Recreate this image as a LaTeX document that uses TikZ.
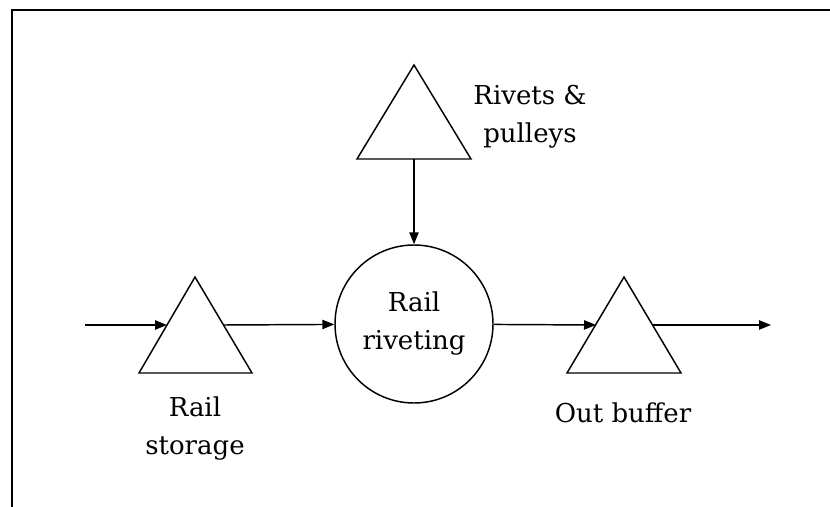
\documentclass[tikz,border=0pt]{standalone}
\usepackage{fontspec}
\setmainfont{DejaVu Serif}
\usetikzlibrary{arrows.meta}
\begin{document}
\begin{tikzpicture}[x=0.75pt,y=-0.75pt,
  frame/.style={line width=1.8pt,line cap=rect},
  flow/.style={line width=1.1pt,-{Triangle[length=9pt,width=7pt]}},
  inv/.style={line width=1.1pt,line join=miter},
  lbl/.style={font=\fontsize{19.5}{28.5}\selectfont,align=center,inner sep=0pt},
  proc/.style={draw,circle,line width=1.1pt,minimum size=118.5pt,inner sep=0pt,
    font=\fontsize{19.5}{28.5}\selectfont,align=center}]
\useasboundingbox (0,0) rectangle (830,506);
% frame (top and left edges)
\draw[frame] (12,507) -- (12,10) -- (831,10);
% inventory triangles
\draw[inv] (195,277) -- (252,373) -- (139,373) -- cycle;
\draw[inv] (414,65) -- (471,159) -- (357,159) -- cycle;
\draw[inv] (624,277) -- (681,373) -- (567,373) -- cycle;
\coordinate (sL) at (167,325);
\coordinate (sR) at (223.5,325);
\coordinate (rvB) at (414,159);
\coordinate (bL) at (596,325);
\coordinate (bR) at (652.5,325);
\coordinate (in) at (85,325);
\coordinate (out) at (771,325);
% process
\node[proc] (rr) at (414,324) {Rail\\riveting};
% labels
\node[lbl] (lrv) at (530,117) {Rivets \&\\pulleys};
\node[lbl] (lst) at (195,429) {Rail\\storage};
\node[lbl] (lob) at (623,413) {Out buffer};
% flows
\draw[flow] (in) -- (sL);
\draw[flow] (sR) -- (rr);
\draw[flow] (rvB) -- (rr.north);
\draw[flow] (rr) -- (bL);
\draw[flow] (bR) -- (out);
\end{tikzpicture}
\end{document}
